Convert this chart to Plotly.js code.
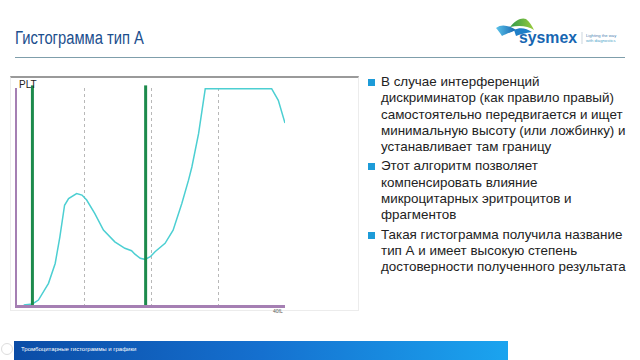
<!DOCTYPE html>
<html>
<head>
<meta charset="utf-8">
<script src="https://cdn.plot.ly/plotly-3.0.1.min.js"></script>
<style>
  html, body { margin: 0; padding: 0; background: #ffffff; }
  body { width: 640px; height: 360px; position: relative; overflow: hidden; font-family: "Liberation Sans", Arial, sans-serif; }
  #frame { position: absolute; left: 10px; top: 76px; width: 349px; height: 235px; border: 1px solid #ececec; border-top: 2px solid #9a9a9a; box-sizing: border-box; }
  #chart { position: absolute; left: 0; top: 0; width: 640px; height: 360px; }
  #title { position: absolute; left: 15px; top: 28px; font-size: 18px; color: #1c4f8e; white-space: nowrap; transform: scaleX(0.82); transform-origin: left top; }
  #rule { position: absolute; left: 15px; top: 57px; width: 610px; height: 0; border-top: 1.5px solid #7f9eab; }
  #bullets { position: absolute; left: 381px; top: 74px; width: 255px; font-size: 13.4px; line-height: 16.3px; color: #222; }
  #bullets p { margin: 0 0 3px 0; position: relative; white-space: nowrap; }
  #bullets p::before { content: ""; position: absolute; left: -13px; top: 5px; width: 7px; height: 7px; background: #1d9bd8; }
  #footer { position: absolute; left: 14px; top: 341px; width: 494px; height: 19px; background: linear-gradient(90deg, #0b4ca6 0%, #1570cf 50%, #1ba4ef 100%); }
  #footer span { position: absolute; left: 7px; top: 5px; font-size: 6px; color: #ffffff; white-space: nowrap; }
  #circ { position: absolute; left: 1px; top: 343px; width: 10px; height: 10px; border: 1px solid #dddddd; border-radius: 50%; }
  #logo { position: absolute; left: 490px; top: 14px; width: 140px; height: 36px; }
</style>
</head>
<body>
<div id="frame"></div>
<div id="title">Гистограмма тип А</div>
<div id="rule"></div>
<svg id="logo" viewBox="0 0 140 36" width="140" height="36">
  <defs>
    <linearGradient id="gb" x1="0" x2="1" y1="0" y2="0">
      <stop offset="0" stop-color="#5bc3ea"/>
      <stop offset="1" stop-color="#1565b0"/>
    </linearGradient>
    <linearGradient id="gg" x1="0" x2="1" y1="0" y2="0">
      <stop offset="0" stop-color="#2f9a4a"/>
      <stop offset="1" stop-color="#9ccc3c"/>
    </linearGradient>
  </defs>
  <path d="M6,14 C12,9 20,12 26,16 C22,18 16,20 12,22 C10,19 8,16 6,14 Z" fill="url(#gb)"/>
  <path d="M20,13 C25,6 32,3 36,5 C40,8 42,12 44,16 C38,12 30,11 20,13 Z" fill="url(#gg)"/>
  <path d="M24,16 C30,13 36,14 42,18 C36,19 30,20 26,22 Z" fill="#1f7fc8"/>
  <text x="29" y="29" font-family="'Liberation Sans', Arial, sans-serif" font-size="17" font-weight="bold" fill="#1666b2" textLength="58" lengthAdjust="spacingAndGlyphs">sysmex</text>
  <line x1="92" y1="18" x2="92" y2="30" stroke="#b5c4d0" stroke-width="0.7"/>
  <text x="96" y="23" font-family="'Liberation Sans', Arial, sans-serif" font-size="4.2" fill="#4a7fb0">Lighting the way</text>
  <text x="96" y="28" font-family="'Liberation Sans', Arial, sans-serif" font-size="4.2" fill="#4a9fc8">with diagnostics</text>
</svg>
<div id="bullets">
  <p>В случае интерференций<br>дискриминатор (как правило правый)<br>самостоятельно передвигается и ищет<br>минимальную высоту (или ложбинку) и<br>устанавливает там границу</p>
  <p>Этот алгоритм позволяет<br>компенсировать влияние<br>микроцитарных эритроцитов и<br>фрагментов</p>
  <p>Такая гистограмма получила название<br>тип А и имеет высокую степень<br>достоверности полученного результата</p>
</div>
<div id="footer"><span>Тромбоцитарные гистограммы и графики</span></div>
<div id="circ"></div>
<div id="chart"></div>
<script>
// Platelet volume (fL) and relative frequency
const volumeFL = [1.0, 2.3, 3.2, 4.7, 5.7, 6.4, 7.1, 7.7, 8.9, 9.7, 10.4, 11.6, 12.9, 14.6, 16.1, 17.1, 17.6, 18.4, 19.1, 19.9, 20.6, 22.1, 23.3, 24.6, 25.6, 26.1, 27.1, 28.1, 38.0, 39.0, 40.0];
const frequency = [0, 0.5, 2.3, 10.0, 19.2, 31.5, 46.1, 49.2, 51.5, 50.8, 48.5, 42.3, 34.6, 29.2, 26.2, 25.1, 23.5, 21.6, 21.1, 22.3, 24.6, 28.5, 34.6, 46.9, 57.7, 63.8, 79.2, 100, 100, 94.6, 84.1];
const discriminators = [2.3, 19.2];
const gridTicks = [10, 20, 30];
const axisMax = 40;
const seriesLabel = "PLT";
const unitLabel = "40fL";

const shapes = discriminators.map(d => ({
  type: "line", xref: "x", yref: "paper", x0: d, x1: d, y0: 0, y1: 1.012,
  line: { color: "#1d8a4c", width: 3 }
}));

Plotly.newPlot("chart", [{
  x: volumeFL, y: frequency, type: "scatter", mode: "lines",
  line: { color: "#4ccfd2", width: 1.5 }, hoverinfo: "skip", cliponaxis: false
}], {
  width: 640, height: 360,
  margin: { l: 17, r: 355, t: 88, b: 55, pad: 0 },
  paper_bgcolor: "rgba(0,0,0,0)", plot_bgcolor: "rgba(0,0,0,0)",
  showlegend: false,
  xaxis: {
    range: [0, axisMax], tickvals: gridTicks, showticklabels: false, ticks: "",
    showgrid: true, gridcolor: "#b8b8b8", griddash: "dot", gridwidth: 1,
    zeroline: false, showline: true, linecolor: "#a57fb3", linewidth: 2.5, fixedrange: true
  },
  yaxis: {
    range: [0, 100.3], showticklabels: false, ticks: "", showgrid: false,
    zeroline: false, showline: true, linecolor: "#a57fb3", linewidth: 2.5, fixedrange: true
  },
  shapes: shapes,
  annotations: [
    { xref: "paper", yref: "paper", x: 0, y: 1, xanchor: "left", yanchor: "bottom", yshift: -4,
      text: seriesLabel, showarrow: false, font: { family: "Liberation Sans, Arial", size: 10, color: "#222" } },
    { xref: "x", yref: "paper", x: axisMax, y: 0, xanchor: "right", yanchor: "top", yshift: -1,
      text: unitLabel, showarrow: false, font: { family: "Liberation Sans, Arial", size: 5, color: "#555" } }
  ]
}, { displayModeBar: false, staticPlot: true });
</script>
</body>
</html>
